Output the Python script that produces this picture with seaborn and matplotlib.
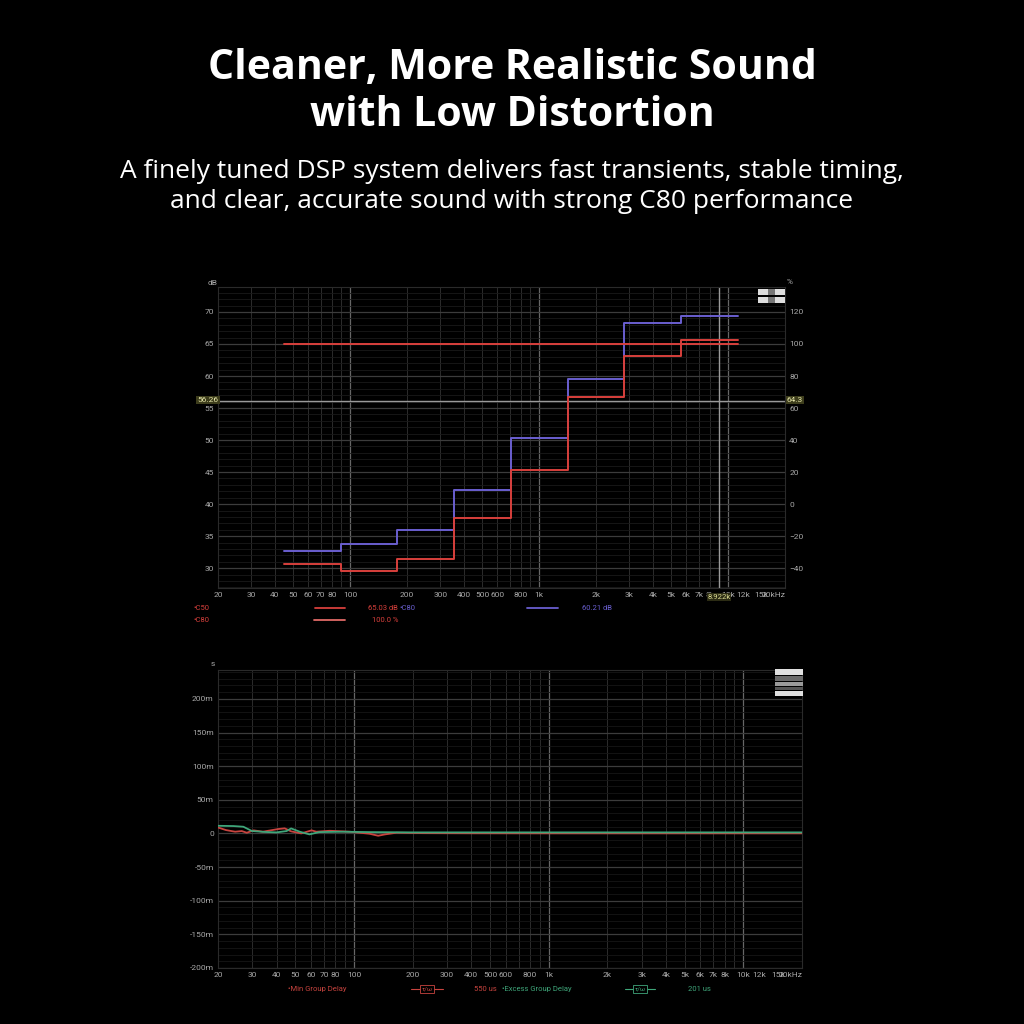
import numpy as np
import pandas as pd
import seaborn as sns
import matplotlib.pyplot as plt
from matplotlib.lines import Line2D
from matplotlib.patches import Rectangle

# ---- data -------------------------------------------------------------
# octave band edges (Hz) and clarity values
band_edges = [44.7, 89, 177, 355, 707, 1414, 2828, 5657, 11314]
c80_db = [32.7, 33.8, 35.9, 42.2, 50.4, 59.6, 68.3, 69.3]   # blue steps
c50_db = [30.6, 29.5, 31.4, 37.9, 45.4, 56.7, 63.2, 65.7]   # red steps
flat_pct = [100.0, 100.0]                                    # red flat line (% axis)
cursor_db = 56.1
cursor_hz = 8980

# group delay (ms)
min_gd_hz = [20, 22, 24.5, 26.5, 28.1, 30.5, 34, 40.8, 44, 47.5, 53.5, 60.5, 64,
             75, 95, 120, 133, 144, 165, 225, 400, 1000, 20000]
min_gd_ms = [8.9, 5.0, 2.6, 3.6, 1.1, 4.6, 2.6, 6.6, 7.6, 3.1, 0.1, 4.6, 2.6,
             4.0, 2.6, -0.4, -3.4, -1.4, 1.1, 0.5, 0.3, 0.2, 0.2]
exc_gd_hz = [20, 24, 27, 29.9, 35, 40, 45, 47.5, 52.6, 59, 66, 87.5, 120, 200, 20000]
exc_gd_ms = [11.4, 11.0, 10.0, 3.6, 2.2, 1.6, 3.6, 7.5, 2.6, -1.4, 2.0, 2.6, 2.0, 1.6, 1.6]

x_ticks = [20, 30, 40, 50, 60, 70, 80, 100, 200, 300, 400, 500, 600, 800,
           1000, 2000, 3000, 4000, 5000, 6000, 7000, 8000, 10000, 12000, 15000, 20000]
x_labels = ["20", "30", "40", "50", "60", "70", "80", "100", "200", "300", "400",
            "500", "600", "800", "1k", "2k", "3k", "4k", "5k", "6k", "7k", "8k",
            "10k", "12k", "15k", "20kHz"]
db_ticks = [30, 35, 40, 45, 50, 55, 60, 65, 70]
pct_ticks = [-40, -20, 0, 20, 40, 60, 80, 100, 120]
gd_ticks = [-200, -150, -100, -50, 0, 50, 100, 150, 200]
gd_labels = ["-200m", "-150m", "-100m", "-50m", "0", "50m", "100m", "150m", "200m"]

RED = "#d8403c"
BLUE = "#6a5fd0"
GREEN = "#3fa67a"
GD_RED = "#c8443f"
TICK_C = "#a8a8a8"

sns.set_theme(style="dark", rc={"axes.facecolor": "black", "figure.facecolor": "black",
                                 "axes.edgecolor": "#333333"})
plt.rcParams['font.family'] = ['Liberation Sans Narrow', 'Roboto', 'DejaVu Sans']

fig = plt.figure(figsize=(10.24, 10.24), dpi=100)
fig.patch.set_facecolor("black")


def px(x):
    return x / 1024


def py(y):
    return 1 - y / 1024


minor_hz = [f * m for f in (10, 100, 1000, 10000) for m in range(1, 10)
            if 20 <= f * m <= 20000]


def style_log_axis(ax):
    ax.set_xscale("log")
    ax.set_xlim(20, 20000)
    ax.set_xticks(x_ticks)
    ax.set_xticklabels(x_labels)
    ax.xaxis.set_minor_locator(plt.FixedLocator(minor_hz))
    ax.xaxis.set_minor_formatter(plt.NullFormatter())
    ax.tick_params(axis="both", which="both", length=0, colors=TICK_C, labelsize=6, pad=3)
    for f in minor_hz:
        ax.axvline(f, color="#2c2c2c", lw=0.7, zorder=0)
    for f in (100, 1000, 10000):
        ax.axvline(f, color="#666666", lw=0.9, zorder=0)
    for s in ax.spines.values():
        s.set_color("#2a2a2a")
        s.set_linewidth(0.8)
    ax.get_xticklabels()[-1].set_ha("right")


# ---- top chart: clarity ---------------------------------------------------
ax1 = fig.add_axes([px(218), py(588), px(567), px(301)])
style_log_axis(ax1)
ax1.set_ylim(26.9, 73.9)
ax1.set_yticks(db_ticks)
ax1.grid(False)
for v in np.arange(27, 74, 1):
    ax1.axhline(v, color="#1a1a1a", lw=0.6, zorder=0)
for v in db_ticks:
    ax1.axhline(v, color="#3c3c3c", lw=0.9, zorder=0)

steps = pd.DataFrame({"hz": band_edges,
                      "c80": c80_db + [c80_db[-1]],
                      "c50": c50_db + [c50_db[-1]]})
sns.lineplot(data=steps, x="hz", y="c80", ax=ax1, color=BLUE, lw=1.4,
             drawstyle="steps-post", zorder=3)
sns.lineplot(data=steps, x="hz", y="c50", ax=ax1, color=RED, lw=1.4,
             drawstyle="steps-post", zorder=3)
ax1.axhline(cursor_db, color="#9a9a9a", lw=1.0, zorder=2)
ax1.axvline(cursor_hz, color="#9a9a9a", lw=1.0, zorder=2)
ax1.set_xlabel("")
ax1.set_ylabel("")

ax1r = ax1.twinx()
ax1r.set_ylim((26.9 - 30) * 4 - 40, (73.9 - 30) * 4 - 40)
ax1r.set_yticks(pct_ticks)
ax1r.tick_params(axis="y", length=0, colors=TICK_C, labelsize=6, pad=3)
ax1r.grid(False)
for s in ax1r.spines.values():
    s.set_visible(False)
sns.lineplot(x=[band_edges[0], band_edges[-1]], y=flat_pct, ax=ax1r, color=RED, lw=1.4)
ax1r.set_ylabel("")

fig.text(px(213), py(283), "dB", color=TICK_C, fontsize=6, ha="center", va="center")
fig.text(px(790), py(282), "%", color=TICK_C, fontsize=6, ha="center", va="center")

# cursor readouts
cur_box = dict(boxstyle="square,pad=0.15", fc="#3d3d1c", ec="none")
fig.text(px(208), py(400), "56.26", color="#e4e4a8", fontsize=6, ha="center",
         va="center", bbox=cur_box)
fig.text(px(795), py(400), "64.3", color="#e4e4a8", fontsize=6, ha="center",
         va="center", bbox=cur_box)
fig.text(px(719), py(597), "8.922k", color="#d8d890", fontsize=5.5, ha="center",
         va="center", bbox=dict(boxstyle="square,pad=0.1", fc="#2c2c14", ec="none"))

# legend rows
LEG = 5.5
fig.text(px(193), py(608), "\u2022C50", color=RED, fontsize=LEG, va="center")
fig.add_artist(Line2D([px(315), px(345)], [py(608), py(608)], color=RED, lw=1.3))
fig.text(px(368), py(608), "65.03 dB", color=RED, fontsize=LEG, va="center")
fig.text(px(399), py(608), "\u2022C80", color=BLUE, fontsize=LEG, va="center")
fig.add_artist(Line2D([px(527), px(558)], [py(608), py(608)], color=BLUE, lw=1.3))
fig.text(px(582), py(608), "60.21 dB", color=BLUE, fontsize=LEG, va="center")
fig.text(px(193), py(620), "\u2022C80", color=RED, fontsize=LEG, va="center")
fig.add_artist(Line2D([px(314), px(345)], [py(620), py(620)], color="#e06a66", lw=1.3))
fig.text(px(372), py(620), "100.0 %", color=RED, fontsize=LEG, va="center")

# ---- bottom chart: group delay -------------------------------------------
ax2 = fig.add_axes([px(218), py(968), px(584), px(298)])
style_log_axis(ax2)
ax2.set_ylim(-200, 243)
ax2.set_yticks(gd_ticks)
ax2.set_yticklabels(gd_labels)
ax2.grid(False)
for v in np.arange(-190, 243, 10):
    ax2.axhline(v, color="#161616", lw=0.6, zorder=0)
for v in gd_ticks:
    ax2.axhline(v, color="#3c3c3c", lw=0.9, zorder=0)

gd_min = pd.DataFrame({"hz": min_gd_hz, "ms": min_gd_ms})
gd_exc = pd.DataFrame({"hz": exc_gd_hz, "ms": exc_gd_ms})
sns.lineplot(data=gd_min, x="hz", y="ms", ax=ax2, color=GD_RED, lw=1.3, zorder=3)
sns.lineplot(data=gd_exc, x="hz", y="ms", ax=ax2, color=GREEN, lw=1.3, zorder=4)
ax2.set_xlabel("")
ax2.set_ylabel("")
fig.text(px(213), py(664), "s", color=TICK_C, fontsize=6, ha="center", va="center")

fig.text(px(288), py(989), "\u2022Min Group Delay", color=GD_RED, fontsize=LEG, va="center")
fig.add_artist(Line2D([px(411), px(443)], [py(989), py(989)], color=GD_RED, lw=0.8))
fig.text(px(427), py(989), "\u03c4/\u03c9", color=GD_RED, fontsize=4.5, ha="center", va="center",
         bbox=dict(boxstyle="square,pad=0.2", fc="black", ec=GD_RED, lw=0.6))
fig.text(px(474), py(989), "550 us", color=GD_RED, fontsize=LEG, va="center")
fig.text(px(502), py(989), "\u2022Excess Group Delay", color=GREEN, fontsize=LEG, va="center")
fig.add_artist(Line2D([px(625), px(655)], [py(989), py(989)], color=GREEN, lw=0.8))
fig.text(px(640), py(989), "\u03c4/\u03c9", color=GREEN, fontsize=4.5, ha="center", va="center",
         bbox=dict(boxstyle="square,pad=0.2", fc="black", ec=GREEN, lw=0.6))
fig.text(px(688), py(989), "201 us", color=GREEN, fontsize=LEG, va="center")

# small toolbar icons in the chart corners
for (x0, y0, w, h, c) in [(758, 289, 10, 6, "#dddddd"), (768, 289, 7, 6, "#777777"),
                          (775, 289, 10, 6, "#dddddd"), (758, 297, 10, 6, "#dddddd"),
                          (768, 297, 7, 6, "#777777"), (775, 297, 10, 6, "#dddddd"),
                          (775, 669, 28, 6, "#e0e0e0"), (775, 676, 28, 5, "#6a6a6a"),
                          (775, 682, 28, 4, "#9a9a9a"), (775, 687, 28, 3, "#555555"),
                          (775, 691, 28, 5, "#e0e0e0")]:
    fig.add_artist(Rectangle((px(x0), py(y0 + h)), px(w), px(h),
                             transform=fig.transFigure, fc=c, ec="none"))

# ---- headline ------------------------------------------------------------
fig.text(0.5, py(68), "Cleaner, More Realistic Sound", color="white", fontsize=29.5,
         fontweight="bold", family="Open Sans", ha="center", va="center")
fig.text(0.5, py(116), "with Low Distortion", color="white", fontsize=29.5,
         fontweight="bold", family="Open Sans", ha="center", va="center")
fig.text(0.5, py(171), "A finely tuned DSP system delivers fast transients, stable timing,",
         color="white", fontsize=19, family="Open Sans", ha="center", va="center")
fig.text(0.5, py(201), "and clear, accurate sound with strong C80 performance",
         color="white", fontsize=19, family="Open Sans", ha="center", va="center")

fig.savefig("out.png", dpi=100, facecolor="black")
